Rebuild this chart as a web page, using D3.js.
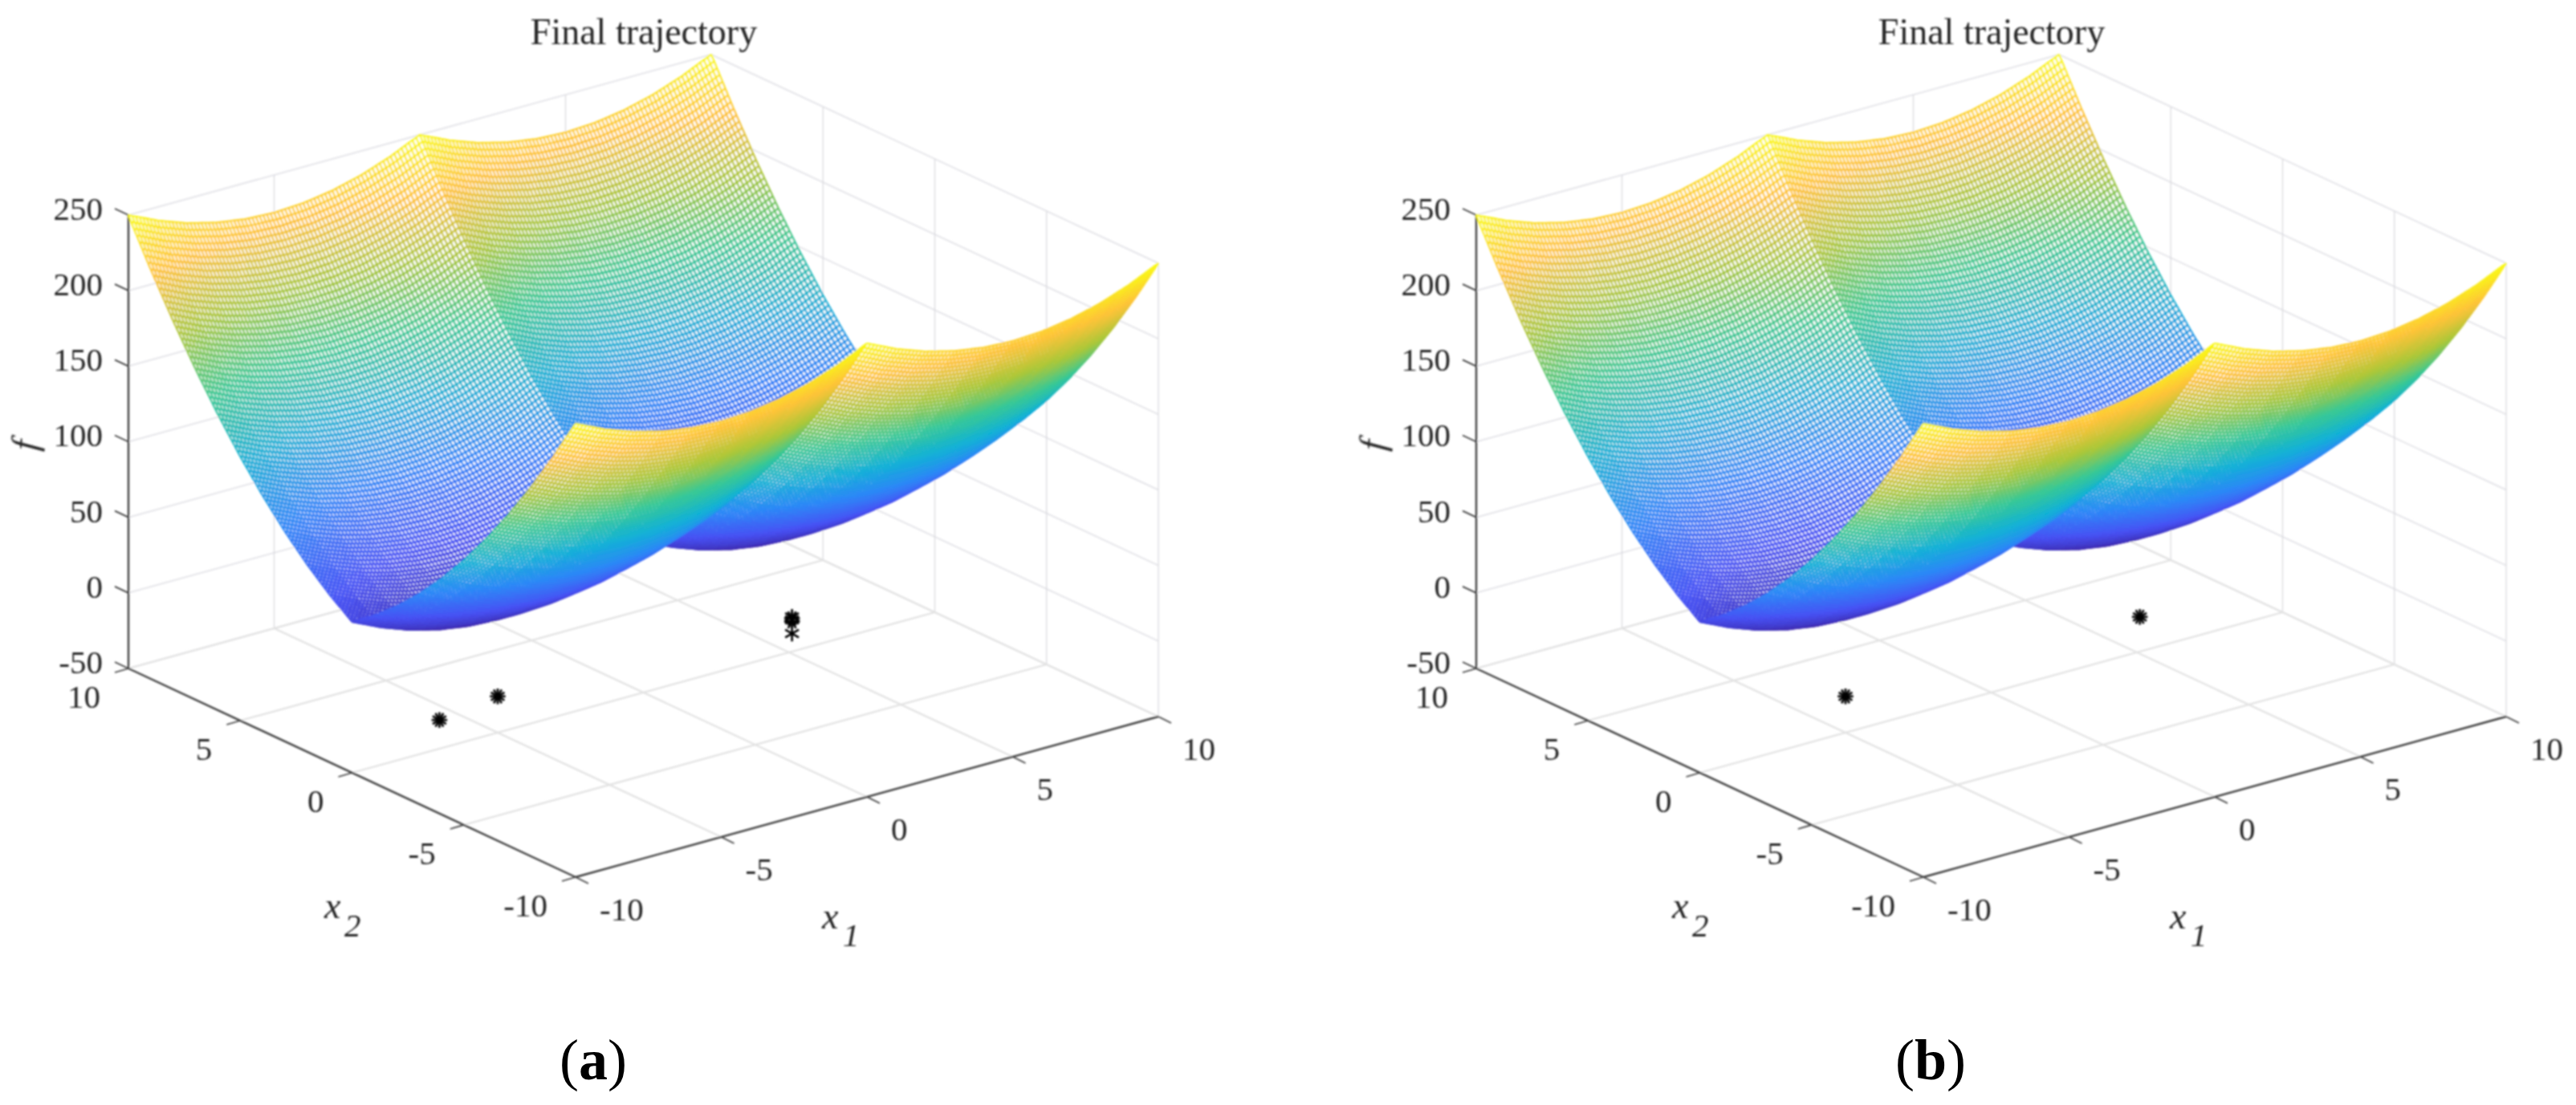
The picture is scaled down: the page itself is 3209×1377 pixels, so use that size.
<!DOCTYPE html>
<html>
<head>
<meta charset="utf-8">
<script src="https://cdn.jsdelivr.net/npm/d3@7"></script>
<style>
  html, body { margin: 0; background: #fff; }
  text { font-family: "Liberation Serif", serif; fill: #262626; }
</style>
</head>
<body>
<div id="chart"></div>
<script>
const titleText = "Final trajectory";
const captions = ["a", "b"];
const x1Ticks = [-10, -5, 0, 5, 10];
const x2Ticks = [-10, -5, 0, 5, 10];
const fTicks = [-50, 0, 50, 100, 150, 200, 250];

// f on a 1-unit grid, columns are x1 = -10..10
const fAt10 = [250, 241, 234, 229, 226, 225, 226, 229, 234, 241, 250, 241, 234, 229, 226, 225, 226, 229, 234, 241, 250];
const fAt9 = [221, 212, 205, 200, 197, 196, 197, 200, 205, 212, 221, 212, 205, 200, 197, 196, 197, 200, 205, 212, 221];
const fAt8 = [194, 185, 178, 173, 170, 169, 170, 173, 178, 185, 194, 185, 178, 173, 170, 169, 170, 173, 178, 185, 194];
const fAt7 = [169, 160, 153, 148, 145, 144, 145, 148, 153, 160, 169, 160, 153, 148, 145, 144, 145, 148, 153, 160, 169];
const fAt6 = [146, 137, 130, 125, 122, 121, 122, 125, 130, 137, 146, 137, 130, 125, 122, 121, 122, 125, 130, 137, 146];
const fAt5 = [125, 116, 109, 104, 101, 100, 101, 104, 109, 116, 125, 116, 109, 104, 101, 100, 101, 104, 109, 116, 125];
const fAt4 = [106, 97, 90, 85, 82, 81, 82, 85, 90, 97, 106, 97, 90, 85, 82, 81, 82, 85, 90, 97, 106];
const fAt3 = [89, 80, 73, 68, 65, 64, 65, 68, 73, 80, 89, 80, 73, 68, 65, 64, 65, 68, 73, 80, 89];
const fAt2 = [74, 65, 58, 53, 50, 49, 50, 53, 58, 65, 74, 65, 58, 53, 50, 49, 50, 53, 58, 65, 74];
const fAt1 = [61, 52, 45, 40, 37, 36, 37, 40, 45, 52, 61, 52, 45, 40, 37, 36, 37, 40, 45, 52, 61];
const fAt0 = [50, 41, 34, 29, 26, 25, 26, 29, 34, 41, 50, 41, 34, 29, 26, 25, 26, 29, 34, 41, 50];
// rows are x2 = -10..10
const surfaceF = [fAt10, fAt9, fAt8, fAt7, fAt6, fAt5, fAt4, fAt3, fAt2, fAt1, fAt0,
  fAt1, fAt2, fAt3, fAt4, fAt5, fAt6, fAt7, fAt8, fAt9, fAt10];

// trajectory end points, panels (a) and (b)
const starsA = {
  x1: [-7, -7, -5, -5, 5.1, 5.1, 5.1, 5.1, 5.1],
  x2: [0, 0, 0, 0, 0, 0, 0, 0, 0],
  f: [-31, -31, -26, -26, -27, -28, -29, -30, -38],
};
const starsB = {
  x1: [-5, -5, 5.1, 5.1],
  x2: [0, 0, 0, 0],
  f: [-26, -26, -27, -27],
};

const parula = ["#3e26a8", "#4752f4", "#2d87f7", "#12b1d6", "#37c897", "#abc739", "#fec338", "#f9fb15"];

const width = 3209;
const height = 1377;
const panelOffset = 1679;
const meshPerUnit = 8;
const meshLevels = 64;

// orthographic view, floor corner x1 = -10, x2 = -10 is the origin
const origin = [717, 1093];
const x1ToX = d3.scaleLinear().domain([-10, 10]).range([0, 726]);
const x1ToY = d3.scaleLinear().domain([-10, 10]).range([0, -200]);
const x2ToX = d3.scaleLinear().domain([-10, 10]).range([0, -557]);
const x2ToY = d3.scaleLinear().domain([-10, 10]).range([0, -260]);
const fToY = d3.scaleLinear().domain([-50, 250]).range([0, -565]);

const project = (x1, x2, f) => [
  origin[0] + x1ToX(x1) + x2ToX(x2),
  origin[1] + x1ToY(x1) + x2ToY(x2) + fToY(f),
];

const colorStops = d3.scaleLinear()
  .domain(parula.map((c, i) => 25 + (225 * i) / (parula.length - 1)))
  .range(parula)
  .clamp(true);
const levelOf = d3.scaleQuantize().domain([25, 250]).range(d3.range(meshLevels));
const levelColor = (level) => colorStops(25 + (225 * (level + 0.5)) / meshLevels);

// shading a table cell needs the height inside it, like mesh lines between the table's nodes
function heightAt(x1, x2) {
  const i = Math.min(Math.floor(x1 + 10), 19);
  const j = Math.min(Math.floor(x2 + 10), 19);
  const u = x1 + 10 - i;
  const v = x2 + 10 - j;
  return (
    surfaceF[j][i] * (1 - u) * (1 - v) +
    surfaceF[j][i + 1] * u * (1 - v) +
    surfaceF[j + 1][i] * (1 - u) * v +
    surfaceF[j + 1][i + 1] * u * v
  );
}

function buildMesh() {
  const nodes = d3.range(0, 20 * meshPerUnit + 1).map((k) => -10 + k / meshPerUnit);
  const layers = [];
  // painter's order, far rows (x2 = 10) first
  for (let j = nodes.length - 2; j >= 0; j--) {
    const near = nodes[j];
    const far = nodes[j + 1];
    const strip = d3.path();
    nodes.forEach((x1, i) => {
      const p = project(x1, far, heightAt(x1, far));
      i ? strip.lineTo(p[0], p[1]) : strip.moveTo(p[0], p[1]);
    });
    nodes.slice().reverse().forEach((x1) => {
      const p = project(x1, near, heightAt(x1, near));
      strip.lineTo(p[0], p[1]);
    });
    strip.closePath();
    layers.push({ d: strip.toString(), fill: "#fff", stroke: "none" });

    const byLevel = new Map();
    const pathFor = (f) => {
      const level = levelOf(f);
      if (!byLevel.has(level)) byLevel.set(level, d3.path());
      return byLevel.get(level);
    };
    nodes.forEach((x1, i) => {
      const fNear = heightAt(x1, near);
      const fFar = heightAt(x1, far);
      const a = project(x1, near, fNear);
      const b = project(x1, far, fFar);
      const cross = pathFor((fNear + fFar) / 2);
      cross.moveTo(a[0], a[1]);
      cross.lineTo(b[0], b[1]);
      if (i < nodes.length - 1) {
        [[near, fNear, a], [far, fFar, b]].forEach(([x2, f0, p0]) => {
          const f1 = heightAt(nodes[i + 1], x2);
          const p1 = project(nodes[i + 1], x2, f1);
          const along = pathFor((f0 + f1) / 2);
          along.moveTo(p0[0], p0[1]);
          along.lineTo(p1[0], p1[1]);
        });
      }
    });
    byLevel.forEach((path, level) => {
      layers.push({ d: path.toString(), fill: "none", stroke: levelColor(level) });
    });
  }
  return layers;
}

const meshLayers = buildMesh();

const svg = d3.select("#chart").append("svg")
  .attr("width", width)
  .attr("height", height)
  .attr("viewBox", [0, 0, width, height]);

svg.append("defs").append("filter")
  .attr("id", "soft")
  .attr("filterUnits", "userSpaceOnUse")
  .attr("x", 0).attr("y", 0).attr("width", width).attr("height", height)
  .append("feGaussianBlur")
  .attr("stdDeviation", 1.2);

function drawSegments(g, segments, stroke, strokeWidth) {
  g.append("g")
    .attr("stroke", stroke)
    .attr("stroke-width", strokeWidth)
    .selectAll("line")
    .data(segments)
    .join("line")
    .attr("x1", (d) => d[0][0])
    .attr("y1", (d) => d[0][1])
    .attr("x2", (d) => d[1][0])
    .attr("y2", (d) => d[1][1]);
}

function drawPanel(dx, stars) {
  const g = svg.append("g")
    .attr("transform", `translate(${dx},0)`)
    .attr("filter", "url(#soft)");

  // walls and floor grid
  const walls = [];
  fTicks.forEach((f) => {
    walls.push([project(-10, 10, f), project(10, 10, f)]);
    walls.push([project(10, 10, f), project(10, -10, f)]);
  });
  drawSegments(g, walls, "#e6e6ea", 2);
  const verticals = [];
  x1Ticks.forEach((v) => verticals.push([project(v, 10, -50), project(v, 10, 250)]));
  x2Ticks.forEach((v) => verticals.push([project(10, v, -50), project(10, v, 250)]));
  drawSegments(g, verticals, "#d8d8dc", 1.2);
  const floor = [];
  x1Ticks.forEach((v) => floor.push([project(v, -10, -50), project(v, 10, -50)]));
  x2Ticks.forEach((v) => floor.push([project(-10, v, -50), project(10, v, -50)]));
  drawSegments(g, floor, "#e2e2e2", 2.2);

  // axes and ticks
  const axes = [
    [project(-10, 10, -50), project(-10, 10, 250)],
    [project(-10, 10, -50), project(-10, -10, -50)],
    [project(-10, -10, -50), project(10, -10, -50)],
  ];
  drawSegments(g, axes, "#404040", 2.4);
  const ticks = [];
  fTicks.forEach((f) => {
    const p = project(-10, 10, f);
    ticks.push([p, [p[0] - 17, p[1] - 8]]);
  });
  x2Ticks.forEach((v) => {
    const p = project(-10, v, -50);
    ticks.push([p, [p[0] - 17, p[1] + 5]]);
  });
  x1Ticks.forEach((v) => {
    const p = project(v, -10, -50);
    ticks.push([p, [p[0] + 16, p[1] + 8]]);
  });
  drawSegments(g, ticks, "#404040", 1.8);

  // surface
  g.append("g")
    .attr("stroke-width", 2.5)
    .selectAll("path")
    .data(meshLayers)
    .join("path")
    .attr("d", (d) => d.d)
    .attr("fill", (d) => d.fill)
    .attr("stroke", (d) => d.stroke);

  // trajectory
  const star = d3.symbol().type(d3.symbolAsterisk).size(270);
  const starG = g.append("g")
    .attr("fill", "none")
    .attr("stroke", "#000")
    .attr("stroke-width", 2.6);
  stars.x1.forEach((x1, i) => {
    const p = project(x1, stars.x2[i], stars.f[i]);
    starG.append("path")
      .attr("d", star())
      .attr("transform", `translate(${p[0]},${p[1]}) rotate(${i % 2 ? 30 : 0})`);
  });

  // text
  g.append("text")
    .attr("x", 802)
    .attr("y", 55)
    .attr("text-anchor", "middle")
    .attr("font-size", 46)
    .text(titleText);

  const tickText = g.append("g").attr("font-size", 41);
  fTicks.forEach((f) => {
    const p = project(-10, 10, f);
    tickText.append("text")
      .attr("x", p[0] - 32)
      .attr("y", p[1] - 8)
      .attr("dy", "0.34em")
      .attr("text-anchor", "end")
      .text(f);
  });
  x2Ticks.forEach((v) => {
    const p = project(-10, v, -50);
    tickText.append("text")
      .attr("x", p[0] - 35)
      .attr("y", p[1] + 35)
      .attr("dy", "0.34em")
      .attr("text-anchor", "end")
      .text(v);
  });
  x1Ticks.forEach((v) => {
    const p = project(v, -10, -50);
    tickText.append("text")
      .attr("x", p[0] + 30)
      .attr("y", p[1] + 40)
      .attr("dy", "0.34em")
      .text(v);
  });

  g.append("text")
    .attr("transform", "translate(46,556) rotate(-85)")
    .attr("font-size", 46)
    .attr("font-style", "italic")
    .attr("text-anchor", "middle")
    .text("f");

  const x2Label = g.append("text").attr("font-style", "italic");
  x2Label.append("tspan").attr("x", 404).attr("y", 1144).attr("font-size", 46).text("x");
  x2Label.append("tspan").attr("x", 429).attr("y", 1167).attr("font-size", 41).text("2");
  const x1Label = g.append("text").attr("font-style", "italic");
  x1Label.append("tspan").attr("x", 1024).attr("y", 1157).attr("font-size", 46).text("x");
  x1Label.append("tspan").attr("x", 1050).attr("y", 1179).attr("font-size", 41).text("1");
}

drawPanel(0, starsA);
drawPanel(panelOffset, starsB);

// captions are crisp in the reference, so they stay out of the blurred groups
captions.forEach((c, i) => {
  const t = svg.append("text")
    .attr("x", i ? 2405 : 739)
    .attr("y", 1345)
    .attr("text-anchor", "middle")
    .attr("font-size", 72)
    .style("fill", "#000");
  t.append("tspan").text("(");
  t.append("tspan").attr("font-weight", "bold").text(c);
  t.append("tspan").text(")");
});
</script>
</body>
</html>
